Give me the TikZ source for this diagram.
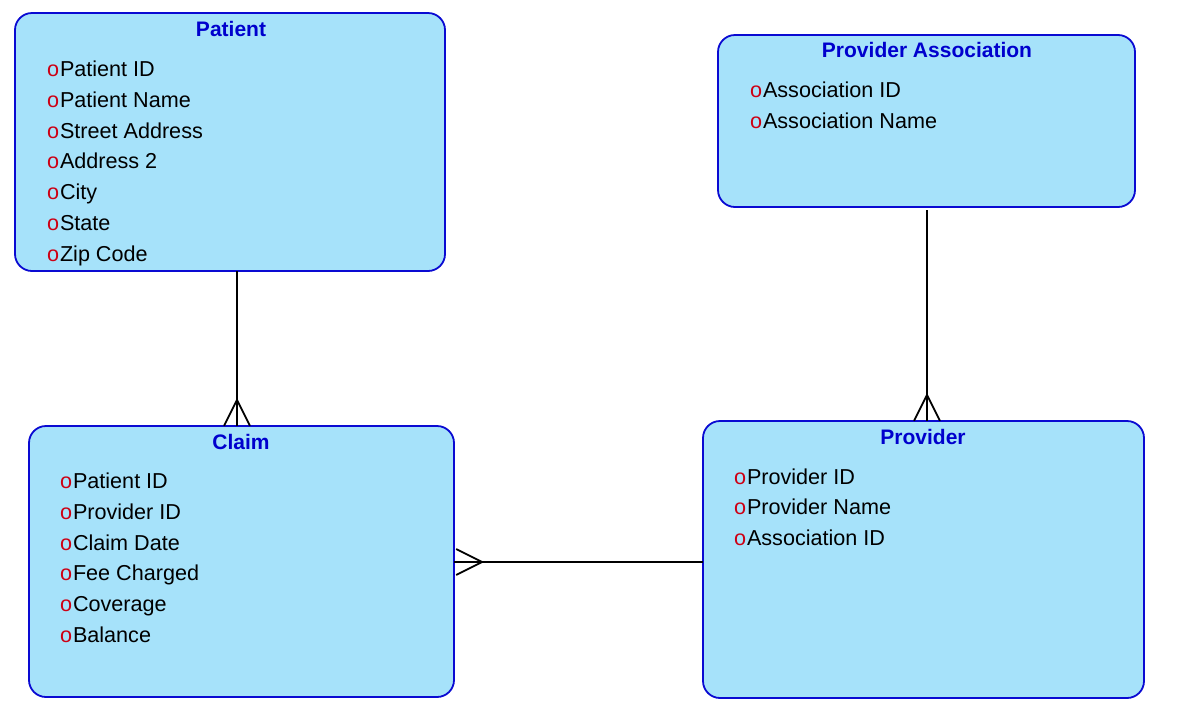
\documentclass[tikz,border=0pt]{standalone}
\usepackage{fontspec}
\setmainfont{Liberation Sans}
\usetikzlibrary{calc}
\definecolor{boxfill}{RGB}{166,226,250}
\definecolor{boxline}{RGB}{10,10,210}
\definecolor{titleblue}{RGB}{0,0,205}
\definecolor{bulletred}{RGB}{205,0,20}
\tikzset{
  entity/.style={draw=boxline, fill=boxfill, line width=1.8pt, rounded corners=17pt},
  etitle/.style={anchor=base, text=titleblue, font=\fontsize{21}{24}\selectfont\bfseries, inner sep=0pt},
  attr/.style={anchor=base west, font=\fontsize{21.6}{24}\selectfont, inner sep=0pt},
  rel/.style={draw=black, line width=1.8pt},
}
\newcommand{\bul}{\textcolor{bulletred}{o}\hspace{0.8pt}}
\begin{document}
\begin{tikzpicture}[x=1pt,y=-1pt]
\useasboundingbox (0,0) rectangle (1177,721);
% entities
\draw[entity] (15,13) rectangle (445,271);
\node[minimum width=430pt, minimum height=258pt, inner sep=0pt] (pat) at (230,142) {};
\node[etitle] (patT) at (231,36) {Patient};
\node[attr] (pa1) at (47,76) {\bul Patient ID};
\node[attr] (pa2) at (47,107) {\bul Patient Name};
\node[attr] (pa3) at (47,138) {\bul Street Address};
\node[attr] (pa4) at (47,168) {\bul Address 2};
\node[attr] (pa5) at (47,199) {\bul City};
\node[attr] (pa6) at (47,230) {\bul State};
\node[attr] (pa7) at (47,261) {\bul Zip Code};

\draw[entity] (718,35) rectangle (1135,207);
\node[minimum width=417pt, minimum height=172pt, inner sep=0pt] (pas) at (926.5,121) {};
\node[etitle] (pasT) at (927,57) {Provider Association};
\node[attr] (ps1) at (750,97) {\bul Association ID};
\node[attr] (ps2) at (750,128) {\bul Association Name};

\draw[entity] (29,426) rectangle (454,697);
\node[minimum width=425pt, minimum height=271pt, inner sep=0pt] (cla) at (241.5,561.5) {};
\node[etitle] (claT) at (241,449) {Claim};
\node[attr] (c1) at (60,488) {\bul Patient ID};
\node[attr] (c2) at (60,519) {\bul Provider ID};
\node[attr] (c3) at (60,550) {\bul Claim Date};
\node[attr] (c4) at (60,580) {\bul Fee Charged};
\node[attr] (c5) at (60,611) {\bul Coverage};
\node[attr] (c6) at (60,642) {\bul Balance};

\draw[entity] (703,421) rectangle (1144,698);
\node[minimum width=441pt, minimum height=277pt, inner sep=0pt] (pro) at (923.5,559.5) {};
\node[etitle] (proT) at (923,444) {Provider};
\node[attr] (p1) at (734,484) {\bul Provider ID};
\node[attr] (p2) at (734,514) {\bul Provider Name};
\node[attr] (p3) at (734,545) {\bul Association ID};

% relationships
% Patient -> Claim (many)
\draw[rel] (pat.south -| 237,0) -- (cla.north -| 237,0);
\draw[rel] ($(cla.north -| 237,0)+(0,-26)$) -- ($(cla.north -| 237,0)+(-13,0)$);
\draw[rel] ($(cla.north -| 237,0)+(0,-26)$) -- ($(cla.north -| 237,0)+(13,0)$);
% Provider Association -> Provider (many)
\draw[rel] ($(pas.south -| 927,0)+(0,3)$) -- (pro.north -| 927,0);
\draw[rel] ($(pro.north -| 927,0)+(0,-26)$) -- ($(pro.north -| 927,0)+(-13,0)$);
\draw[rel] ($(pro.north -| 927,0)+(0,-26)$) -- ($(pro.north -| 927,0)+(13,0)$);
% Provider -> Claim (many)
\draw[rel] (pro.west |- 0,562) -- (cla.east |- 0,562);
\draw[rel] ($(cla.east |- 0,562)+(28,0)$) -- ($(cla.east |- 0,562)+(2,-13)$);
\draw[rel] ($(cla.east |- 0,562)+(28,0)$) -- ($(cla.east |- 0,562)+(2,13)$);
\end{tikzpicture}
\end{document}
